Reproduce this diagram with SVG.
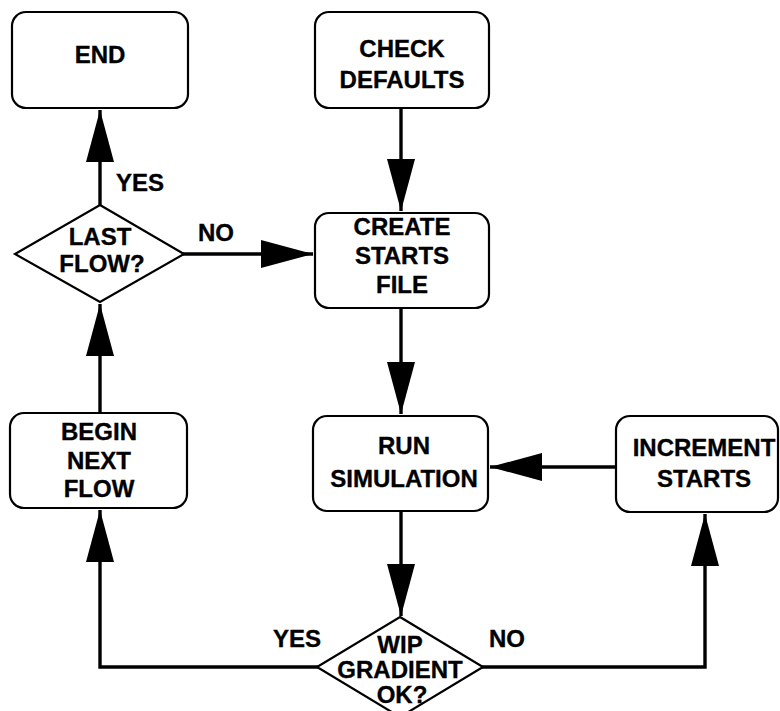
<svg xmlns="http://www.w3.org/2000/svg" width="780" height="711" viewBox="0 0 780 711">
  <style>
    .box { fill: #fff; stroke: #000; stroke-width: 2.2; }
    .dia { fill: #fff; stroke: #000; stroke-width: 2.2; }
    .lbl { font-family: "Liberation Sans", Arial, Helvetica, sans-serif; font-weight: bold; font-size: 24px; fill: #000; stroke: #000; stroke-width: 0.35; text-anchor: middle; }
    .edge { fill: none; stroke: #000; stroke-width: 3.4; }
  </style>
  <defs>
    <marker id="head" markerUnits="userSpaceOnUse" markerWidth="54" markerHeight="30" refX="52" refY="14" orient="auto">
      <path d="M0,0 L52,14 L0,28 Z" fill="#000"/>
    </marker>
  </defs>
  <rect width="780" height="711" fill="#fff"/>

  <g id="connectors">
    <line class="edge" x1="100" y1="205" x2="100" y2="110" marker-end="url(#head)"/>
    <line class="edge" x1="183" y1="254" x2="313" y2="254" marker-end="url(#head)"/>
    <line class="edge" x1="401" y1="108" x2="401" y2="211" marker-end="url(#head)"/>
    <line class="edge" x1="401" y1="308" x2="401" y2="414" marker-end="url(#head)"/>
    <line class="edge" x1="401" y1="511" x2="401" y2="616" marker-end="url(#head)"/>
    <line class="edge" x1="615" y1="467" x2="490" y2="467" marker-end="url(#head)"/>
    <polyline class="edge" points="482,667 705,667 705,514" marker-end="url(#head)"/>
    <polyline class="edge" points="318,667 100,667 100,510" marker-end="url(#head)"/>
    <line class="edge" x1="100" y1="413" x2="100" y2="304" marker-end="url(#head)"/>
    <text class="lbl" x="140" y="191">YES</text>
    <text class="lbl" x="216" y="241">NO</text>
    <text class="lbl" x="297" y="647">YES</text>
    <text class="lbl" x="507" y="647">NO</text>
  </g>

  <g id="end">
    <rect class="box" x="12" y="12" width="176" height="96" rx="14"/>
    <text class="lbl" x="100" y="63">END</text>
  </g>

  <g id="check-defaults">
    <rect class="box" x="315" y="12" width="174" height="96" rx="14"/>
    <text class="lbl" x="402" y="57">CHECK</text>
    <text class="lbl" x="402" y="88">DEFAULTS</text>
  </g>

  <g id="last-flow">
    <polygon class="dia" points="100,205 184,254 100,302 15,254"/>
    <text class="lbl" x="100" y="245">LAST</text>
    <text class="lbl" x="102" y="272">FLOW?</text>
  </g>

  <g id="create-starts-file">
    <rect class="box" x="315" y="213" width="174" height="95" rx="14"/>
    <text class="lbl" x="402" y="235">CREATE</text>
    <text class="lbl" x="402" y="264">STARTS</text>
    <text class="lbl" x="402" y="293">FILE</text>
  </g>

  <g id="begin-next-flow">
    <rect class="box" x="10" y="413" width="177" height="95" rx="14"/>
    <text class="lbl" x="99" y="440">BEGIN</text>
    <text class="lbl" x="99" y="469">NEXT</text>
    <text class="lbl" x="99" y="497">FLOW</text>
  </g>

  <g id="run-simulation">
    <rect class="box" x="313" y="416" width="175" height="95" rx="14"/>
    <text class="lbl" x="404" y="454">RUN</text>
    <text class="lbl" x="404" y="487">SIMULATION</text>
  </g>

  <g id="increment-starts">
    <rect class="box" x="616" y="416" width="162" height="96" rx="14"/>
    <text class="lbl" x="704" y="456">INCREMENT</text>
    <text class="lbl" x="704" y="487">STARTS</text>
  </g>

  <g id="wip-gradient-ok">
    <polygon class="dia" points="400,617 483,667 400,717 317,667"/>
    <text class="lbl" x="400" y="653">WIP</text>
    <text class="lbl" x="400" y="678">GRADIENT</text>
    <text class="lbl" x="402" y="703">OK?</text>
  </g>
</svg>
